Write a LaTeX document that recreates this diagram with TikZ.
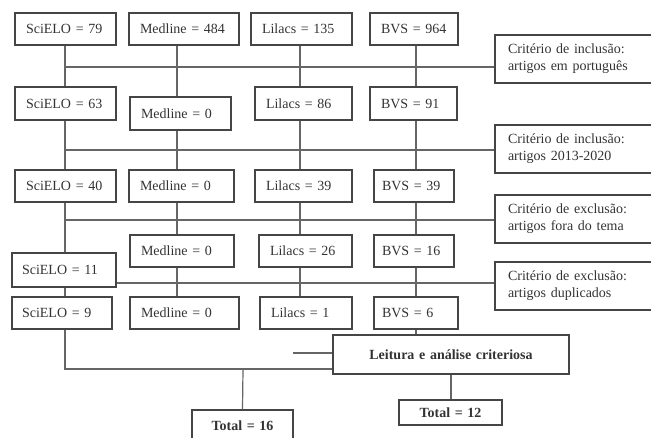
\documentclass[tikz,border=0pt]{standalone}
\usepackage{fontspec}
\setmainfont{Liberation Serif}
\definecolor{boxgray}{HTML}{454545}
\definecolor{linegray}{HTML}{666666}
\definecolor{txtgray}{HTML}{333333}
\usetikzlibrary{calc, positioning}

\tikzset{
   dbbox/.style={draw=boxgray, line width=1.2pt, text=txtgray,
      font=\fontsize{14}{17}\selectfont, inner xsep=11pt, inner ysep=0pt,
      minimum height=32pt, align=left},
   critbox/.style={dbbox, inner xsep=13pt, minimum height=48pt, text width=144pt},
   totbox/.style={dbbox, font=\fontsize{14}{17}\selectfont\bfseries, align=center},
   link/.style={draw=linegray, line width=1.2pt},
}

\begin{document}
\begin{tikzpicture}[x=1pt, y=-1pt]
      \clip (0,0) rectangle (651,437);
      % columns of the vertical links
      \coordinate (cs) at (65,0);
      \coordinate (cm) at (177,0);
      \coordinate (cl) at (300,0);
      \coordinate (cb) at (416,0);
      % Row 1: initial search
      \node[dbbox, text width=79pt] (s1) at (65.5,29) {SciELO = 79};
      \node[dbbox, text width=88pt] (m1) at (184,29) {Medline = 484};
      \node[dbbox, text width=79pt] (l1) at (301.5,29) {Lilacs = 135};
      \node[dbbox, text width=66pt] (b1) at (414,29) {BVS = 964};
      % Row 2: language
      \node[dbbox, text width=79pt, minimum height=33pt] (s2) at (65.5,103.5) {SciELO = 63};
      \node[dbbox, text width=79pt, minimum height=33pt] (m2) at (180.5,113.5) {Medline = 0};
      \node[dbbox, text width=75pt, minimum height=33pt] (l2) at (303.5,103.5) {Lilacs = 86};
      \node[dbbox, text width=65pt, minimum height=33pt] (b2) at (413.5,103.5) {BVS = 91};
      % Row 3: period
      \node[dbbox, text width=79pt] (s3) at (65.5,186) {SciELO = 40};
      \node[dbbox, text width=83pt] (m3) at (181.5,186) {Medline = 0};
      \node[dbbox, text width=75pt] (l3) at (303.5,186) {Lilacs = 39};
      \node[dbbox, text width=64pt, inner xsep=8pt] (b3) at (414,186) {BVS = 39};
      % Row 4: topic
      \node[dbbox, minimum height=34pt, inner xsep=10pt, text width=84pt] (s4) at (64,270) {SciELO = 11};
      \node[dbbox, text width=82pt] (m4) at (182,251) {Medline = 0};
      \node[dbbox, text width=71pt] (l4) at (305.5,251) {Lilacs = 26};
      \node[dbbox, text width=64pt, inner xsep=8pt] (b4) at (414,251) {BVS = 16};
      % Row 5: duplicates
      \node[dbbox, text width=80pt, inner xsep=10pt] (s5) at (62,313) {SciELO = 9};
      \node[dbbox, text width=87pt] (m5) at (184.5,313) {Medline = 0};
      \node[dbbox, text width=70pt] (l5) at (306,313) {Lilacs = 1};
      \node[dbbox, text width=68pt, inner xsep=8pt] (b5) at (416,313) {BVS = 6};
      % Criteria (cut at the right edge)
      \node[critbox] (c1) at (580,59) {Critério de inclusão:\\artigos em português};
      \node[critbox] (c2) at (580,149) {Critério de inclusão:\\artigos 2013-2020};
      \node[critbox] (c3) at (580,219) {Critério de exclusão:\\artigos fora do tema};
      \node[critbox] (c4) at (580,286) {Critério de exclusão:\\artigos duplicados};
      % Reading and totals
      \node[totbox, text width=214pt, minimum height=39pt] (lei) at (451,354.5) {Leitura e análise criteriosa};
      \node[totbox, text width=79pt] (t16) at (242.5,426) {Total = 16};
      \node[totbox, text width=81pt, minimum height=25pt] (t12) at (450.5,412.5) {Total = 12};
      % Vertical links
      \foreach \a/\b in {1/2, 2/3, 3/4, 4/5} {
         \draw[link] (s\a.south -| cs) -- (s\b.north -| cs);
         \draw[link] (m\a.south -| cm) -- (m\b.north -| cm);
         \draw[link] (l\a.south -| cl) -- (l\b.north -| cl);
         \draw[link] (b\a.south -| cb) -- (b\b.north -| cb);
      }
      % Horizontal links to the criteria
      \coordinate (h1) at (65,67);
      \coordinate (h2) at (65,150);
      \coordinate (h3) at (65,220);
      \draw[link] (h1) -- (h1 -| c1.west);
      \draw[link] (h2) -- (h2 -| c2.west);
      \draw[link] (h3) -- (h3 -| c3.west);
      \draw[link] (s4.east |- 0,283) -- (c4.west |- 0,283);
      % Into the reading box
      \coordinate (jn) at (243,369);
      \coordinate (st) at (293,353);
      \draw[link] (s5.south -| cs) |- (jn) -- (jn -| lei.west);
      \draw[link] (st) -- (st -| lei.west);
      \draw[link] (b5.south -| cb) -- (lei.north -| cb);
      % Totals
      \coordinate (ct) at (451,0);
      \draw[link] (jn) -- (t16.north);
      \draw[link] (lei.south -| ct) -- (t12.north -| ct);
   \end{tikzpicture}
\end{document}
